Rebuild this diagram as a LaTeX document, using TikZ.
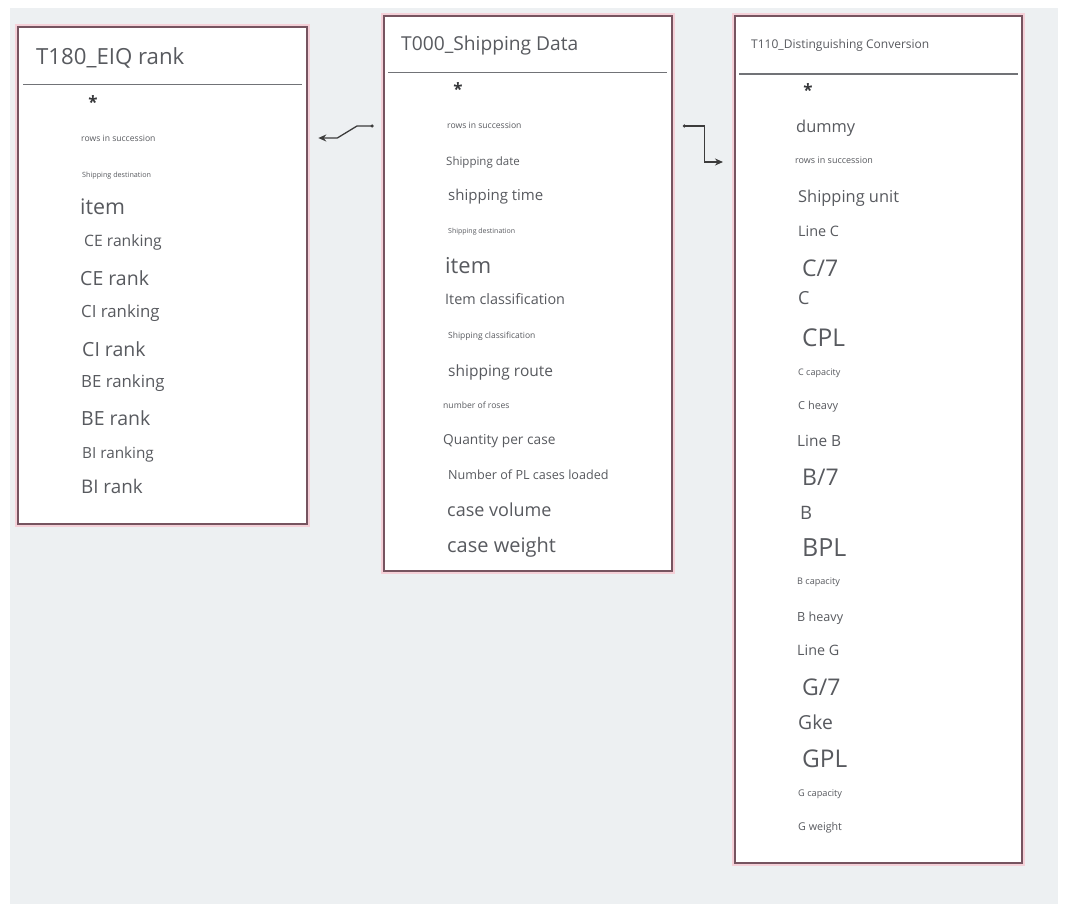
\documentclass[tikz,border=0pt]{standalone}
\usepackage{fontspec}
\setmainfont{Open Sans}
\usetikzlibrary{arrows.meta}
\usetikzlibrary{calc}

\definecolor{bgc}{RGB}{237,240,242}
\definecolor{rimc}{RGB}{118,84,96}
\definecolor{glowc}{RGB}{245,208,216}
\definecolor{txtc}{RGB}{88,90,95}
\definecolor{linkc}{RGB}{60,60,60}

\tikzset{
  tbox/.style={draw=rimc,line width=2.3pt,fill=white,rectangle,anchor=north west,inner sep=0pt,
    preaction={draw=glowc,line width=5.5pt}},
  hline/.style={draw=txtc!85,line width=1.1pt},
  fld/.style={anchor=base west,inner sep=0pt,text=txtc,font=\fontsize{#1}{#1}\selectfont},
  star/.style={anchor=base,inner sep=0pt,text=txtc!60!black,font=\fontsize{17}{17}\selectfont\bfseries},
  link/.style={draw=linkc,line width=1.3pt,-{Stealth[length=8pt,width=7pt]}},
  dotc/.style={circle,fill=linkc,inner sep=0pt,minimum size=3.5pt}
}

\begin{document}
\begin{tikzpicture}[x=1pt,y=-1pt]
  \useasboundingbox (0,0) rectangle (1065,912);
  \fill[bgc] (10,8) rectangle (1058,904);

  \node[tbox,minimum width=289pt,minimum height=497pt] (t180) at (17,26) {};
  \node[tbox,minimum width=288pt,minimum height=555pt] (t000) at (383,15) {};
  \node[tbox,minimum width=287pt,minimum height=847pt] (t110) at (734,15) {};

  \draw[hline] ($(t180.north west)+(6,58.5)$) -- ($(t180.north east)+(-6,58.5)$);
  \draw[hline] ($(t000.north west)+(5,57.5)$) -- ($(t000.north east)+(-6,57.5)$);
  \draw[hline] ($(t110.north west)+(5,59)$) -- ($(t110.north east)+(-5,59)$);

  \node[fld=22.2] (t180h) at (36,{57+0.36*22.2}) {T180\_EIQ rank};
  \node[fld=19.2] (t000h) at (401,{44+0.36*19.2}) {T000\_Shipping Data};
  \node[fld=12] (t110h) at (751,{44+0.36*12}) {T110\_Distinguishing Conversion};

  \node[star] (s180) at (93,109) {*};
  \node[star] (s000) at (458,96) {*};
  \node[star] (s110) at (808,97) {*};

  \foreach \x/\y/\s/\t [count=\i] in {
    81/139/8.6/rows in succession,
    82/175/7.2/Shipping destination,
    80/207/21.4/item,
    84/241/15.7/CE ranking,
    80/279/19.5/CE rank,
    81/312/16.8/CI ranking,
    82/350/19.5/CI rank,
    81/382/16.8/BE ranking,
    81/419/19.5/BE rank,
    82/453/15.3/BI ranking,
    81/487/18.8/BI rank}
    \node[fld=\s] (a\i) at (\x,{\y+0.33*\s}) {\t};

  \foreach \x/\y/\s/\t [count=\i] in {
    447/126/8.6/rows in succession,
    446/162/11.5/Shipping date,
    448/196/15/shipping time,
    448/231/7/Shipping destination,
    445/266/21.9/item,
    445/300/14.4/Item classification,
    448/336/8.5/Shipping classification,
    448/371/15.5/shipping route,
    443/406/8.6/number of roses,
    443/440/13.7/Quantity per case,
    448/475/12.6/Number of PL cases loaded,
    447/511/18/case volume,
    447/546/20/case weight}
    \node[fld=\s] (b\i) at (\x,{\y+0.33*\s}) {\t};

  \foreach \x/\y/\s/\t [count=\i] in {
    796/127/16.4/dummy,
    795/161/9/rows in succession,
    798/197/16.4/Shipping unit,
    798/232/14.4/Line C,
    802/269/23/{C/7},
    798/299/18/C,
    802/338/24.5/CPL,
    798/373/9/C capacity,
    798/406/11/C heavy,
    797/441/15.4/Line B,
    802/478/23/{B/7},
    800/513/18.5/B,
    802/548/25/BPL,
    797/581/9.1/B capacity,
    797/617/12.6/B heavy,
    797/651/14.3/Line G,
    802/688/23/{G/7},
    798/723/19.3/Gke,
    802/759/24.4/GPL,
    798/793/9.2/G capacity,
    798/827/10.7/G weight}
    \node[fld=\s] (c\i) at (\x,{\y+0.33*\s}) {\t};

  \coordinate (l0) at ($(t000.north west)+(-11,111)$);
  \coordinate (l1) at ($(t180.north east)+(10,112)$);
  \node[dotc] (d0) at (l0) {};
  \draw[link] (d0.center) -- ++(-15,0) -- ($(l1)+(19,0)$) -- (l1);

  \coordinate (r0) at ($(t000.north east)+(11,111)$);
  \coordinate (r1) at ($(t110.north west)+(-11,147)$);
  \node[dotc] (d1) at (r0) {};
  \draw[link] (d1.center) -- ++(20,0) |- (r1);
\end{tikzpicture}
\end{document}
